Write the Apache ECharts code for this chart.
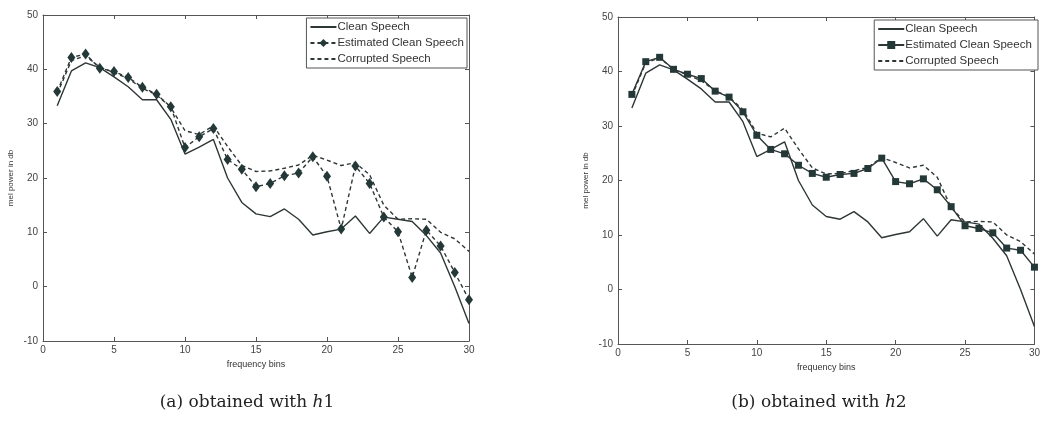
<!DOCTYPE html>
<html>
<head>
<meta charset="utf-8">
<script src="https://cdn.jsdelivr.net/npm/echarts@6/dist/echarts.min.js"></script>
<style>
  html, body { margin: 0; padding: 0; background: #fff; }
  #chart { width: 1043px; height: 423px; }
</style>
</head>
<body>
<div id="chart"></div>
<script>
// Frequency bins 1..30
const bins = Array.from({ length: 30 }, (_, i) => i + 1);

// Mel power (dB) per bin
const cleanSpeech = [33.3, 39.7, 41.2, 40.3, 38.6, 36.8, 34.4, 34.4, 30.8, 24.4,
  25.7, 27.1, 20.0, 15.5, 13.4, 12.9, 14.3, 12.4, 9.5, 10.1,
  10.6, 13.0, 9.8, 12.8, 12.4, 12.0, 9.4, 6.2, 0.0, -6.8];
const corruptedSpeech = [35.5, 41.6, 42.5, 40.4, 39.4, 38.3, 36.5, 35.3, 33.0, 28.7,
  28.0, 29.6, 25.8, 22.3, 21.2, 21.3, 21.8, 22.4, 24.2, 23.3,
  22.3, 22.8, 20.6, 15.0, 12.4, 12.5, 12.4, 10.0, 8.8, 6.5];
const estimatedH1 = [35.9, 42.2, 42.8, 40.2, 39.6, 38.5, 36.7, 35.4, 33.1, 25.6,
  27.6, 29.1, 23.4, 21.6, 18.4, 19.0, 20.4, 20.9, 23.9, 20.3,
  10.6, 22.2, 19.0, 12.8, 10.1, 1.7, 10.4, 7.5, 2.6, -2.4];
const estimatedH2 = [35.8, 41.8, 42.6, 40.4, 39.5, 38.7, 36.4, 35.3, 32.6, 28.3,
  25.7, 24.9, 22.8, 21.3, 20.6, 21.1, 21.3, 22.2, 24.1, 19.8,
  19.4, 20.3, 18.3, 15.2, 11.7, 11.2, 10.4, 7.6, 7.2, 4.1];

const seriesNames = ['Clean Speech', 'Estimated Clean Speech', 'Corrupted Speech'];

const ink = '#2e3636';
const frame = '#555';
const labelColor = '#444';

const pairs = ys => bins.map((b, i) => [b, ys[i]]);

const grids = [
  { left: 43, right: 574, top: 15, bottom: 82 },
  { left: 618, right: 2, top: 17, bottom: 79 }
];

function xAxes(gi) {
  const base = {
    gridIndex: gi, type: 'value', min: 0, max: 30, interval: 5,
    axisLine: { show: true, onZero: false, lineStyle: { color: frame, width: 1 } },
    axisTick: { show: true, inside: true, length: 4, lineStyle: { color: frame } },
    splitLine: { show: false }
  };
  return [
    Object.assign({}, base, {
      position: 'bottom',
      name: 'frequency bins', nameLocation: 'middle', nameGap: 16,
      nameTextStyle: { fontFamily: 'Liberation Sans', fontSize: 9, color: '#333' },
      axisLabel: { fontFamily: 'Liberation Sans', fontSize: 10, color: labelColor, margin: 4 }
    }),
    Object.assign({}, base, { position: 'top', axisLabel: { show: false } })
  ];
}

function yAxes(gi) {
  const base = {
    gridIndex: gi, type: 'value', min: -10, max: 50, interval: 10,
    axisLine: { show: true, onZero: false, lineStyle: { color: frame, width: 1 } },
    axisTick: { show: true, inside: true, length: 4, lineStyle: { color: frame } },
    splitLine: { show: false }
  };
  return [
    Object.assign({}, base, {
      position: 'left',
      name: 'mel power in db', nameLocation: 'middle', nameGap: 28,
      nameTextStyle: { fontFamily: 'Liberation Sans', fontSize: 8, color: '#333' },
      axisLabel: { fontFamily: 'Liberation Sans', fontSize: 10, color: labelColor, margin: 5 }
    }),
    Object.assign({}, base, { position: 'right', axisLabel: { show: false } })
  ];
}

// Each panel gets its own series ids (suffix) so each legend picks its own styles
const panelSuffix = ['', ' \u200b'];
const nameOf = (gi, k) => seriesNames[k] + panelSuffix[gi];

function panelSeries(gi, estimated, symbol, symbolSize, estDashed) {
  const xi = gi * 2, yi = gi * 2;
  return [
    {
      name: nameOf(gi, 0), type: 'line', xAxisIndex: xi, yAxisIndex: yi,
      data: pairs(cleanSpeech), showSymbol: false,
      lineStyle: { color: ink, width: 1.4 }, itemStyle: { color: ink },
      z: 3, silent: true
    },
    {
      name: nameOf(gi, 1), type: 'line', xAxisIndex: xi, yAxisIndex: yi,
      data: pairs(estimated), symbol: symbol, symbolSize: symbolSize, showSymbol: true,
      lineStyle: { color: ink, width: 1.4, type: estDashed ? [4, 3] : 'solid' },
      itemStyle: { color: '#243838', borderWidth: 0 },
      z: 4, silent: true
    },
    {
      name: nameOf(gi, 2), type: 'line', xAxisIndex: xi, yAxisIndex: yi,
      data: pairs(corruptedSpeech), showSymbol: false,
      lineStyle: { color: ink, width: 1.4, type: [4, 3] }, itemStyle: { color: ink },
      z: 2, silent: true
    }
  ];
}

// Legend entries: plain line samples for the two unmarked series
function legendFor(gi, right, top) {
  return {
    show: true, orient: 'vertical', right: right, top: top,
    data: [
      { name: nameOf(gi, 0), itemStyle: { opacity: 0 } },
      { name: nameOf(gi, 1) },
      { name: nameOf(gi, 2), itemStyle: { opacity: 0 } }
    ],
    formatter: n => n.trim().replace('\u200b', ''),
    itemWidth: 26, itemHeight: 10, itemGap: 4,
    padding: [3, 3, 3, 3],
    borderColor: '#555', borderWidth: 1, backgroundColor: '#fff',
    textStyle: { fontFamily: 'Liberation Sans', fontSize: 11.5, color: '#333', padding: [0, 0, 0, -4] },
    selectedMode: false
  };
}

const captionFont = '17px "DejaVu Serif"';
function caption(cx, cy, letter) {
  return {
    type: 'text', x: cx, y: cy,
    style: {
      text: '(' + letter + ') obtained with {i|h}' + (letter === 'a' ? '1' : '2'),
      font: captionFont, fill: '#222', align: 'center', verticalAlign: 'middle',
      rich: { i: { fontFamily: 'DejaVu Serif', fontStyle: 'italic', fontSize: 17, fill: '#222' } }
    }
  };
}

const chart = echarts.init(document.getElementById('chart'), null, { renderer: 'canvas' });
chart.setOption({
  animation: false,
  backgroundColor: '#fff',
  grid: grids,
  xAxis: [...xAxes(0), ...xAxes(1)],
  yAxis: [...yAxes(0), ...yAxes(1)],
  legend: [legendFor(0, 576, 18), legendFor(1, 5, 20)],
  series: [
    ...panelSeries(0, estimatedH1, 'diamond', [8, 11], true),
    ...panelSeries(1, estimatedH2, 'rect', 7, false)
  ],
  graphic: [caption(247, 403, 'a'), caption(819, 403, 'b')]
});
</script>
</body>
</html>
